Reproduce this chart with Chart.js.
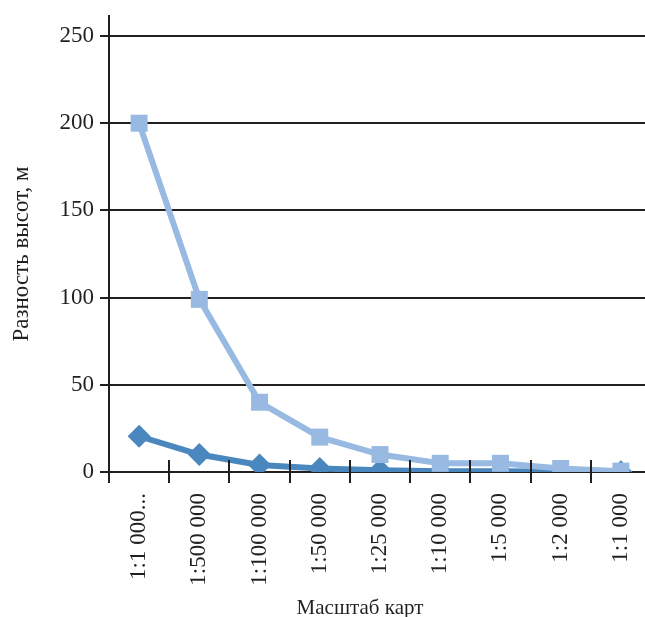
<!DOCTYPE html>
<html>
<head>
<meta charset="utf-8">
<script src="https://cdn.jsdelivr.net/npm/chart.js@4"></script>
<style>
  html, body { margin: 0; padding: 0; background: #fff; overflow: hidden; }
  #wrap { width: 645px; height: 617px; overflow: hidden; }
</style>
</head>
<body>
<div id="wrap"><canvas id="chart" width="663" height="617"></canvas></div>
<script>
const scales = ["1:1 000...", "1:500 000", "1:100 000", "1:50 000", "1:25 000", "1:10 000", "1:5 000", "1:2 000", "1:1 000"];
const upperValues = [200, 99, 40, 20, 10, 5, 5, 2, 0.5]; // light squares
const lowerValues = [20.5, 10, 4, 2, 1, 0.5, 0.5, 0.2, 0.1]; // dark diamonds
const yTicks = [0, 50, 100, 150, 200, 250];
const xTitle = "Масштаб карт";

const ink = "#231f20";
const serif = "'Liberation Serif', 'DejaVu Serif', serif";

// axis line on the left, cross ticks at category boundaries, x title
const axisMarks = {
  id: "axisMarks",
  afterDatasetsDraw(chart) {
    const { ctx, chartArea, scales: { x } } = chart;
    ctx.save();
    ctx.strokeStyle = ink;
    ctx.lineWidth = 2;
    ctx.beginPath();
    ctx.moveTo(chartArea.left, chartArea.top - 21);
    ctx.lineTo(chartArea.left, chartArea.bottom + 11);
    for (let i = 1; i < scales.length; i++) {
      const px = Math.round((x.getPixelForValue(i - 1) + x.getPixelForValue(i)) / 2);
      ctx.moveTo(px, chartArea.bottom - 12);
      ctx.lineTo(px, chartArea.bottom + 11);
    }
    ctx.stroke();

    ctx.fillStyle = ink;
    ctx.font = "21px " + serif;
    ctx.textAlign = "center";
    ctx.textBaseline = "alphabetic";
    ctx.fillText(xTitle, chartArea.left + 251, chartArea.bottom + 142);
    ctx.restore();
  }
};

new Chart(document.getElementById("chart"), {
  type: "line",
  data: {
    labels: scales,
    datasets: [
      {
        data: upperValues,
        borderColor: "#97b9e2",
        backgroundColor: "#97b9e2",
        borderWidth: 6,
        pointStyle: "rect",
        pointRadius: 12,
        pointBorderWidth: 0,
        tension: 0,
        order: 0
      },
      {
        data: lowerValues,
        borderColor: "#4a87bf",
        backgroundColor: "#4a87bf",
        borderWidth: 6,
        pointStyle: "rectRot",
        pointRadius: 11.5,
        pointBorderWidth: 0,
        tension: 0,
        order: 1
      }
    ]
  },
  options: {
    responsive: false,
    animation: false,
    layout: { padding: { top: 36, right: 0, left: 8, bottom: 0 } },
    plugins: { legend: { display: false }, tooltip: { enabled: false } },
    scales: {
      x: {
        offset: true,
        grid: { display: false },
        border: { display: true, color: ink, width: 2 },
        ticks: {
          color: ink,
          font: { family: serif, size: 23 },
          minRotation: 90,
          maxRotation: 90,
          padding: 13,
          autoSkip: false
        },
        afterFit(s) {
          s.height = 145;
          s.paddingLeft = 0;
          s.paddingRight = 0;
        }
      },
      y: {
        min: 0,
        max: 250,
        afterBuildTicks(s) { s.ticks = yTicks.map(v => ({ value: v })); },
        grid: { color: ink, lineWidth: 2, tickLength: 9, tickColor: ink },
        border: { display: false },
        ticks: {
          color: ink,
          font: { family: serif, size: 23 },
          padding: 6
        },
        title: {
          display: true,
          text: "Разность высот, м",
          color: ink,
          font: { family: serif, size: 23 },
          padding: { top: 0, bottom: 12 }
        },
        afterFit(s) {
          s.width = 101;
          s.paddingTop = 0;
          s.paddingBottom = 0;
        }
      }
    }
  },
  plugins: [axisMarks]
});
</script>
</body>
</html>
